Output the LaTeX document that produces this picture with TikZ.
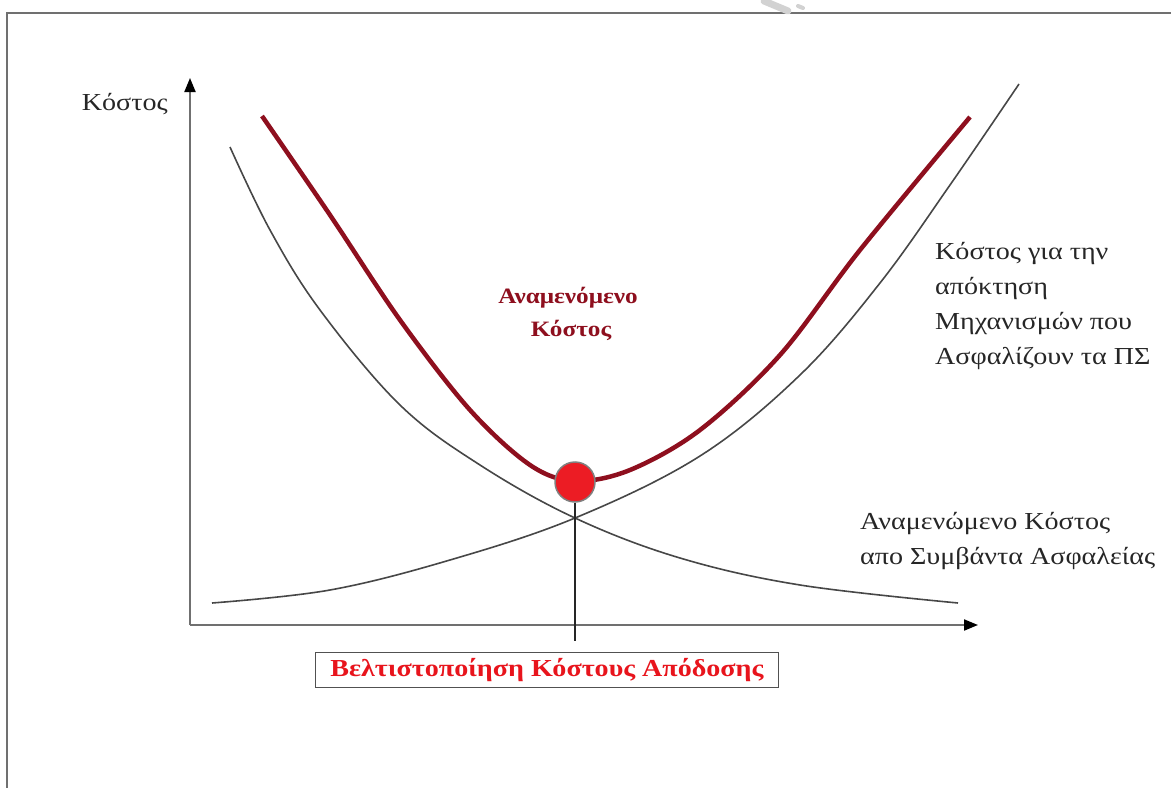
\documentclass[tikz,border=0pt]{standalone}
\usepackage{fontspec}
\setmainfont{Liberation Serif}[FakeStretch=1.15]
\usetikzlibrary{arrows.meta}
\definecolor{curvered}{HTML}{8E0F1E}
\definecolor{dotred}{HTML}{EC1C24}
\definecolor{boxred}{HTML}{E8141C}
\definecolor{axisgray}{HTML}{707070}
\definecolor{inkgray}{HTML}{262626}
\tikzset{
  frame/.style={draw=axisgray, line width=2bp},
  axis/.style={draw=axisgray, line width=2bp, -{Triangle[length=14bp,width=11bp,color=black]}},
  costcurve/.style={draw=inkgray!85, line width=1.6bp},
  totalcurve/.style={draw=curvered, line width=4.5bp},
  label/.style={text=inkgray, font=\fontsize{24.5}{35}\selectfont, align=left, inner sep=0pt},
  redlabel/.style={text=curvered, font=\fontsize{22}{33}\selectfont\bfseries, align=center, inner sep=0pt},
  optdot/.style={circle, fill=dotred, draw=gray, line width=1.5bp, minimum size=40bp, inner sep=0pt},
  optbox/.style={draw=inkgray!80, line width=1.5bp, text=boxred, font=\fontsize{24.5}{25}\selectfont\bfseries,
    minimum width=463bp, minimum height=35bp, inner sep=0pt}
}
\begin{document}
\begin{tikzpicture}[x=1bp, y=-1bp]
\useasboundingbox (0,0) rectangle (1171,788);
% page frame and faint mark at the top edge
\draw[frame] (7,788) -- (7,13) -- (1171,13);
\draw[gray!35, line width=7bp, line cap=round] (764,1) -- (788,11);
\draw[gray!35, line width=4bp, line cap=round] (798,6) -- (803,8);

% axes
\coordinate (O) at (190,625);
\coordinate (ytop) at (190,78);
\coordinate (xend) at (978,625);
\draw[axis] (O) -- (ytop);
\draw[axis] (O) -- (xend);
\node[label, anchor=east] (ylab) at (168,104) {Κόστος};

% cost of acquiring security mechanisms (rising)
\draw[costcurve] plot[smooth, tension=0.6] coordinates {
  (212,603) (330,590) (450,560) (575,518) (700,456) (800,375) (880,283) (950,185) (1019,84)};
% expected cost of security incidents (falling)
\draw[costcurve] plot[smooth, tension=0.6] coordinates {
  (230,147) (270,230) (320,310) (400,405) (480,465) (575,518) (680,558) (800,585) (958,603)};
% total expected cost
\draw[totalcurve] plot[smooth, tension=0.55] coordinates {
  (262,116) (330,215) (400,320) (470,410) (530,465) (575,481) (630,470) (700,430) (780,355) (860,250) (970,117)};

% optimum point and its marker line
\node[optdot] (opt) at (575,482) {};
\node[optbox] (box) at (547,670) {Βελτιστοποίηση Κόστους Απόδοσης};
\draw[inkgray, line width=1.5bp] (opt.south) -- (opt.south |- 0,641);

% labels
\node[redlabel] (total) at (568,314) {Αναμενόμενο\\\hspace*{6bp}Κόστος};
\node[label, anchor=north west] (acq) at (935,242) {Κόστος για την\\απόκτηση\\Μηχανισμών που\\Ασφαλίζουν τα ΠΣ};
\node[label, anchor=north west] (inc) at (860,512) {Αναμενώμενο Κόστος\\απο Συμβάντα Ασφαλείας};
\end{tikzpicture}
\end{document}
